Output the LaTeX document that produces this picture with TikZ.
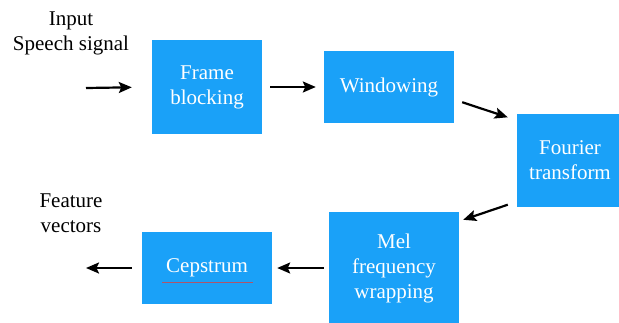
\documentclass[tikz,border=0pt]{standalone}
\usepackage{fontspec}
\setmainfont{Liberation Serif}
\usetikzlibrary{arrows.meta}
\definecolor{boxblue}{RGB}{26,161,248}
\definecolor{spellred}{RGB}{225,60,60}
\tikzset{
  blk/.style={fill=boxblue, draw=none, text=white, align=center, inner sep=0pt,
    font=\rmfamily\fontsize{21}{25}\selectfont},
  lbl/.style={text=black, align=center, inner sep=0pt, font=\rmfamily\fontsize{21}{25}\selectfont},
  flow/.style={line width=2.2pt, -{Stealth[length=13pt,width=11pt,inset=2.5pt]}}
}
\begin{document}
\begin{tikzpicture}[x=1pt,y=-1pt]
  \useasboundingbox (0,0) rectangle (619,322);

  % processing blocks
  \node[blk, minimum width=110pt, minimum height=94pt] (frame) at (207,87) {Frame\\blocking};
  \node[blk, minimum width=130pt, minimum height=72pt] (window) at (389,87) {Windowing};
  \node[blk, minimum width=106pt, minimum height=93pt] (fourier) at (570,160) {Fourier\\transform};
  \node[blk, minimum width=130pt, minimum height=112pt] (mel) at (394,268) {Mel\\frequency\\wrapping};
  \node[blk, minimum width=130pt, minimum height=72pt] (cep) at (207,268) {Cepstrum};

  % spell-check underline beneath "Cepstrum"
  \draw[spellred, line width=0.7pt, opacity=0.75] ([shift={(-45,14)}]cep.center) -- ([shift={(46,14)}]cep.center);

  % input / output labels
  \node[lbl] (inlbl) at (71,33) {Input\\Speech signal};
  \node[lbl] (outlbl) at (71,213) {Feature\\vectors};

  \coordinate (src) at (86,88);
  \coordinate (dst) at (86,268);

  % signal flow
  \draw[flow, shorten >=20pt] (src) -- (frame.west);
  \draw[flow, shorten <=8pt, shorten >=8pt] (frame.east) -- (window.west);
  \draw[flow] ([shift={(8,-21)}]window.south east) -- ([shift={(-9,4)}]fourier.north west);
  \draw[flow] ([shift={(-9,-2)}]fourier.south west) -- ([shift={(4,8)}]mel.north east);
  \draw[flow, shorten <=5pt, shorten >=5pt] (mel.west) -- (cep.east);
  \draw[flow, shorten <=10pt] (cep.west) -- (dst);
\end{tikzpicture}
\end{document}
